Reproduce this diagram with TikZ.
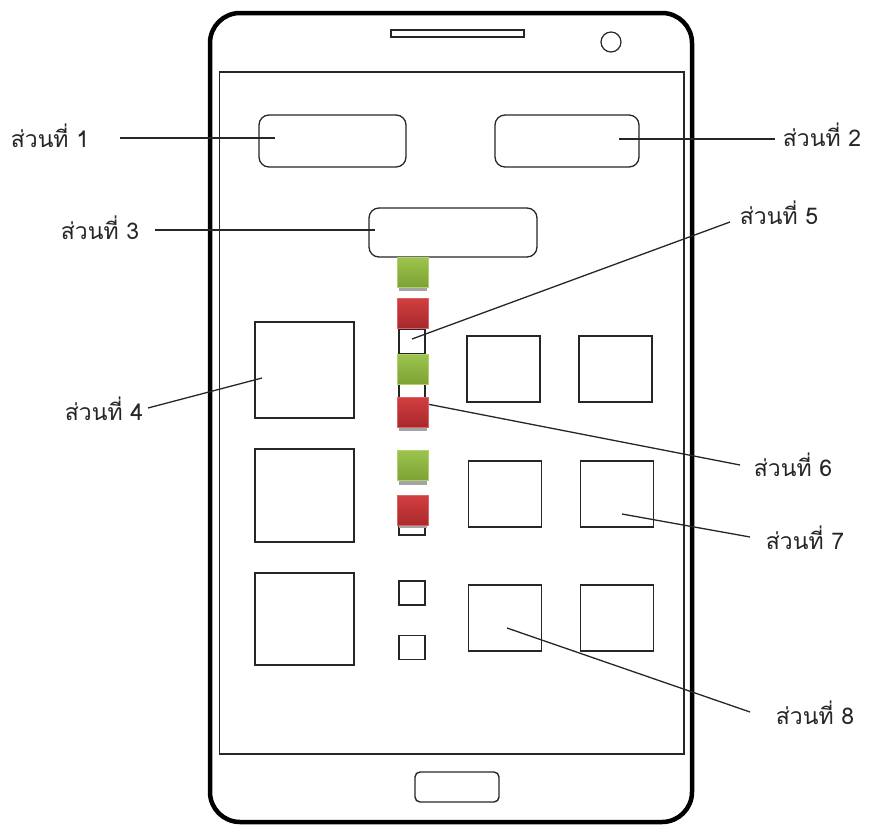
\documentclass[tikz,border=0pt]{standalone}
\usepackage{fontspec}
\newfontfamily\thaifont[Script=Thai]{Loma}
\definecolor{gtop}{HTML}{9DC44C}
\definecolor{gbot}{HTML}{7BA234}
\definecolor{rtop}{HTML}{D23E40}
\definecolor{rbot}{HTML}{A8292C}
\definecolor{shad}{HTML}{A4A4A4}
\begin{document}
\begin{tikzpicture}[x=1pt,y=-1pt,
  box/.style={draw=black!85,line width=1.3pt,fill=white,inner sep=0pt},
  rbox/.style={box,rounded corners=10pt},
  sbox/.style={box,line width=1.4pt,minimum width=26pt,minimum height=24pt},
  gsq/.style={inner sep=0pt,minimum width=31pt,minimum height=30pt,top color=gtop,bottom color=gbot,draw=gtop!80!white,line width=0.6pt},
  rsq/.style={inner sep=0pt,minimum width=31pt,minimum height=30pt,top color=rtop,bottom color=rbot,draw=rtop!80!white,line width=0.6pt},
  shd/.style={fill=shad,draw=none,inner sep=0pt,minimum width=28pt,minimum height=30pt},
  lbl/.style={font=\thaifont\fontsize{23}{25}\selectfont,text=black!85,inner sep=1pt},
  lead/.style={draw=black!85,line width=1.3pt}]
\useasboundingbox (0,0) rectangle (870,825);
% phone body
\draw[line width=4.5pt,rounded corners=30pt] (210,13) rectangle (692,822);
\node[draw=black!85,line width=1.3pt,inner sep=0pt,minimum width=464.5pt,minimum height=682pt] (screen) at (451.75,413) {};
\node[draw=black!85,line width=1.2pt,inner sep=0pt,minimum width=133pt,minimum height=7pt] (speaker) at (457.5,33.5) {};
\node[draw=black!85,line width=1.2pt,circle,inner sep=0pt,minimum size=20pt] (camera) at (611,42) {};
\node[draw=black!85,line width=1.4pt,rounded corners=5pt,inner sep=0pt,minimum width=84pt,minimum height=30pt] (home) at (457,787) {};
% top rounded boxes
\node[rbox,minimum width=147pt,minimum height=52pt] (b1) at (332.5,141) {};
\node[rbox,minimum width=144pt,minimum height=52pt] (b2) at (567,141) {};
\node[rbox,minimum width=168pt,minimum height=49pt] (b3) at (453,232.5) {};
% left big squares
\node[box,minimum width=99pt,minimum height=96pt] (q1) at (304.5,370) {};
\node[box,minimum width=99pt,minimum height=93pt] (q2) at (304.5,495.5) {};
\node[box,minimum width=99pt,minimum height=92pt] (q3) at (304.5,619) {};
% right squares
\node[box,minimum width=73pt,minimum height=66pt] (r11) at (503.5,369) {};
\node[box,minimum width=73pt,minimum height=66pt] (r12) at (615.5,369) {};
\node[box,minimum width=73pt,minimum height=66pt] (r21) at (505,494) {};
\node[box,minimum width=73pt,minimum height=66pt] (r22) at (617,494) {};
\node[box,minimum width=73pt,minimum height=66pt] (r31) at (505,618) {};
\node[box,minimum width=73pt,minimum height=66pt] (r32) at (617,618) {};
% small middle boxes
\node[sbox] (s1) at (412,341.5) {};
\node[sbox] (s2) at (412,396) {};
\node[sbox] (s3) at (412,523) {};
\node[sbox] (s4) at (412,593) {};
\node[sbox] (s5) at (412,647.5) {};
% labels
\node[lbl] (l1) at (50,136) {ส่วนที่ 1};
\node[lbl] (l2) at (822,135) {ส่วนที่ 2};
\node[lbl] (l3) at (100,228) {ส่วนที่ 3};
\node[lbl] (l4) at (104,409) {ส่วนที่ 4};
\node[lbl] (l5) at (779,213) {ส่วนที่ 5};
\node[lbl] (l6) at (793,465) {ส่วนที่ 6};
\node[lbl] (l7) at (805,538) {ส่วนที่ 7};
\node[lbl] (l8) at (815,713) {ส่วนที่ 8};
% leader end points
\coordinate (e1) at (120,138); \coordinate (p1) at (275,138);
\coordinate (e2) at (775,139); \coordinate (p2) at (619,139);
\coordinate (e3) at (155,230); \coordinate (p3) at (375,230);
\coordinate (e4) at (148,408); \coordinate (p4) at (262,378);
\coordinate (e5) at (730,222); \coordinate (p5) at (412,339);
\coordinate (e6) at (740,465); \coordinate (p6) at (422,403);
\coordinate (e7) at (750,537); \coordinate (p7) at (622,514);
\coordinate (e8) at (750,712); \coordinate (p8) at (507,628);
\draw[lead] (e1) -- (p1);
\draw[lead] (e2) -- (p2);
\draw[lead] (e3) -- (p3);
\draw[lead] (e4) -- (p4);
\draw[lead] (e5) -- (p5);
\draw[lead] (e6) -- (p6);
\draw[lead] (e7) -- (p7);
\draw[lead] (e8) -- (p8);
% shadows
\node[shd] at (412.5,276) {};
\node[shd] at (412.5,416) {};
\node[shd] at (412.5,469.5) {};
\node[shd] at (412.5,513) {};
% coloured squares
\node[gsq] (g1) at (412.5,272) {};
\node[rsq] (c1) at (412.5,313) {};
\node[gsq] (g2) at (412.5,369.5) {};
\node[rsq] (c2) at (412.5,412) {};
\node[gsq] (g3) at (412.5,465.5) {};
\node[rsq] (c3) at (412.5,510.5) {};
\end{tikzpicture}
\end{document}
